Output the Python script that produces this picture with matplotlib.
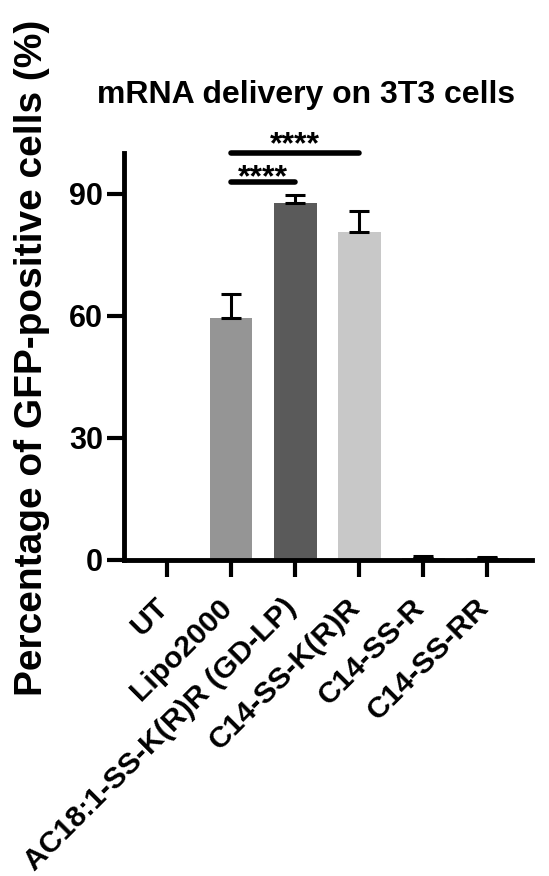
import matplotlib
matplotlib.use("Agg")
import matplotlib.pyplot as plt
from matplotlib.transforms import ScaledTranslation

categories = ["UT", "Lipo2000", "AC18:1-SS-K(R)R (GD-LP)", "C14-SS-K(R)R", "C14-SS-R", "C14-SS-RR"]
values = [0.0, 59.5, 87.8, 80.7, 0.5, 0.4]
errors = [0.0, 5.8, 2.0, 5.2, 0.5, 0.4]
bar_colors = ["#ffffff", "#959595", "#5a5a5a", "#c8c8c8", "#888888", "#888888"]
yticks = [0, 30, 60, 90]
sig_pairs = [(1, 2, 93.0, 91.8), (1, 3, 100.0, 100.0)]
sig_text = "****"

plt.rcParams['font.family'] = ['Liberation Sans', 'DejaVu Sans']
plt.rcParams['font.weight'] = 'bold'

fig = plt.figure(figsize=(5.49, 8.76), dpi=100)
ax = fig.add_axes([0.226, 0.361, 0.743, 0.464])

x = list(range(len(categories)))
ax.bar(x, values, width=0.67, color=bar_colors, edgecolor='none', zorder=2)
ax.errorbar(x, values, yerr=[[0]*len(errors), errors], fmt='none', ecolor='black',
            elinewidth=2.2, capsize=7, capthick=2.2, zorder=3)

for a, b, h, ty in sig_pairs:
    ax.plot([a, b], [h, h], color='black', lw=4, solid_capstyle='round', clip_on=False)
    ax.text((a + b) / 2, ty, sig_text, ha='center', va='baseline', fontsize=23,
            fontweight='bold', clip_on=False)

ax.set_xlim(-0.67, 5.7)
ax.set_ylim(0, 100)
ax.set_yticks(yticks)
ax.set_xticks(x)
ax.set_xticklabels(categories, rotation=45, ha='right', rotation_mode='anchor',
                   fontsize=21.7, fontweight='bold')
ax.tick_params(axis='y', labelsize=22, width=3, length=12, pad=3)
ax.tick_params(axis='x', width=3, length=12, pad=10)
offset = ScaledTranslation(-13 / 100, -3 / 100, fig.dpi_scale_trans)
for lbl in ax.get_xticklabels():
    lbl.set_transform(lbl.get_transform() + offset)
for s in ['top', 'right']:
    ax.spines[s].set_visible(False)
for s in ['left', 'bottom']:
    ax.spines[s].set_linewidth(3.5)

fig.text(0.557, 0.892, "mRNA delivery on 3T3 cells", ha='center', va='center',
         fontsize=23, fontweight='bold')
fig.text(0.058, 0.592, "Percentage of GFP-positive cells (%)", rotation=90,
         ha='center', va='center', fontsize=28, fontweight='bold')

fig.savefig("out.png", dpi=100)
